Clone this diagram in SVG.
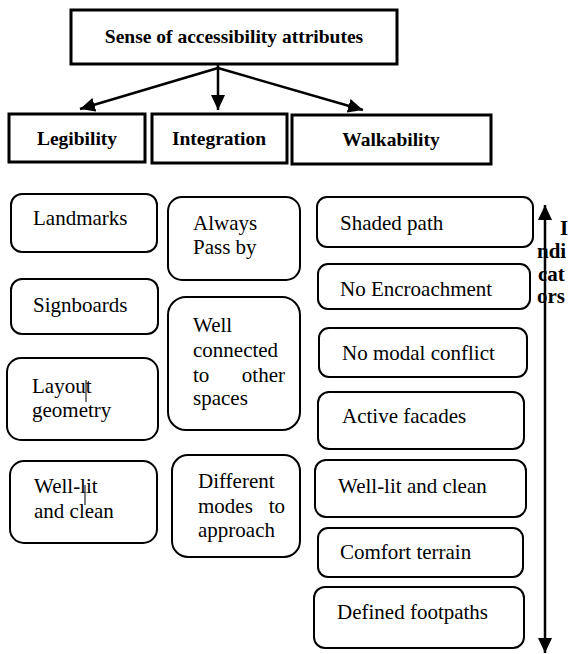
<svg xmlns="http://www.w3.org/2000/svg" width="568" height="654" viewBox="0 0 568 654">
<style>
.hdr{fill:#fff;stroke:#000;stroke-width:3}
.box{fill:#fff;stroke:#000;stroke-width:2}
text{font-family:'Liberation Serif','Times New Roman','DejaVu Serif',serif;fill:#000}
.b{font-weight:bold;font-size:19.5px}
.t{font-size:21px}
.ind{font-weight:bold;font-size:21px}
.con{stroke:#000;stroke-width:2.5;fill:none}
</style>
<defs>
<marker id="ah" markerUnits="userSpaceOnUse" markerWidth="16" markerHeight="14" refX="15" refY="7" orient="auto-start-reverse">
<path d="M0,0 L15,7 L0,14 z" fill="#000"/>
</marker>
</defs>
<rect width="568" height="654" fill="#fff"/>
<g id="connectors">
<line class="con" x1="218" y1="58" x2="218" y2="110" marker-end="url(#ah)"/>
<line class="con" x1="218" y1="68" x2="80" y2="109" marker-end="url(#ah)"/>
<line class="con" x1="218" y1="68" x2="363" y2="110" marker-end="url(#ah)"/>
<line class="con" x1="545" y1="205" x2="545" y2="653" stroke-width="2" marker-start="url(#ah)" marker-end="url(#ah)"/>
</g>
<g id="root">
<rect class="hdr" x="71" y="10" width="326" height="54"/>
<text class="b" x="234" y="43" text-anchor="middle">Sense of accessibility attributes</text>
</g>
<g id="legibility">
<rect class="hdr" x="9" y="114" width="136" height="48"/>
<text class="b" x="77" y="145" text-anchor="middle">Legibility</text>
</g>
<g id="integration">
<rect class="hdr" x="152" y="114" width="135" height="49"/>
<text class="b" x="219" y="145" text-anchor="middle">Integration</text>
</g>
<g id="walkability">
<rect class="hdr" x="292" y="115" width="199" height="49"/>
<text class="b" x="391" y="146" text-anchor="middle">Walkability</text>
</g>
<g id="landmarks">
<rect class="box" x="11" y="194" width="146" height="58" rx="11"/>
<text class="t" x="33" y="225">Landmarks</text>
</g>
<g id="signboards">
<rect class="box" x="11" y="279" width="147" height="55" rx="11"/>
<text class="t" x="33" y="312">Signboards</text>
</g>
<g id="layout">
<rect class="box" x="7" y="358" width="151" height="82" rx="14"/>
<text class="t" x="32" y="393">Layout</text>
<text class="t" x="32" y="417">geometry</text>
<line x1="86" y1="380" x2="86" y2="402" stroke="#000" stroke-width="1"/>
</g>
<g id="welllit-l">
<rect class="box" x="10" y="461" width="147" height="82" rx="14"/>
<text class="t" x="34" y="493">Well-lit</text>
<text class="t" x="34" y="518">and clean</text>
<line x1="85" y1="485" x2="85" y2="505" stroke="#000" stroke-width="1"/>
</g>
<g id="always">
<rect class="box" x="168" y="197" width="132" height="83" rx="14"/>
<text class="t" x="193" y="230">Always</text>
<text class="t" x="193" y="254">Pass by</text>
</g>
<g id="connected">
<rect class="box" x="168" y="297" width="132" height="133" rx="18"/>
<text class="t" x="193" y="332">Well</text>
<text class="t" x="193" y="357">connected</text>
<text class="t" x="193" y="382">to</text>
<text class="t" x="285" y="382" text-anchor="end">other</text>
<text class="t" x="193" y="405">spaces</text>
</g>
<g id="modes">
<rect class="box" x="172" y="455" width="128" height="102" rx="16"/>
<text class="t" x="198" y="488">Different</text>
<text class="t" x="198" y="513">modes</text>
<text class="t" x="285" y="513" text-anchor="end">to</text>
<text class="t" x="198" y="537">approach</text>
</g>
<g id="shaded">
<rect class="box" x="317" y="197" width="216" height="50" rx="10"/>
<text class="t" x="340" y="230">Shaded path</text>
</g>
<g id="encroach">
<rect class="box" x="318" y="264" width="212" height="45" rx="10"/>
<text class="t" x="340" y="296">No Encroachment</text>
</g>
<g id="modal">
<rect class="box" x="319" y="328" width="208" height="49" rx="10"/>
<text class="t" x="342" y="360">No modal conflict</text>
</g>
<g id="facades">
<rect class="box" x="318" y="392" width="206" height="57" rx="11"/>
<text class="t" x="342" y="423">Active facades</text>
</g>
<g id="welllit-r">
<rect class="box" x="315" y="460" width="211" height="57" rx="11"/>
<text class="t" x="338" y="493">Well-lit and clean</text>
</g>
<g id="terrain">
<rect class="box" x="318" y="528" width="205" height="49" rx="10"/>
<text class="t" x="340" y="559">Comfort terrain</text>
</g>
<g id="footpaths">
<rect class="box" x="314" y="587" width="210" height="61" rx="11"/>
<text class="t" x="337" y="619">Defined footpaths</text>
</g>
<g id="indicators">
<text class="ind" x="560" y="235">I</text>
<text class="ind" x="537" y="258">ndi</text>
<text class="ind" x="538" y="281">cat</text>
<text class="ind" x="537" y="303">ors</text>
</g>
</svg>
